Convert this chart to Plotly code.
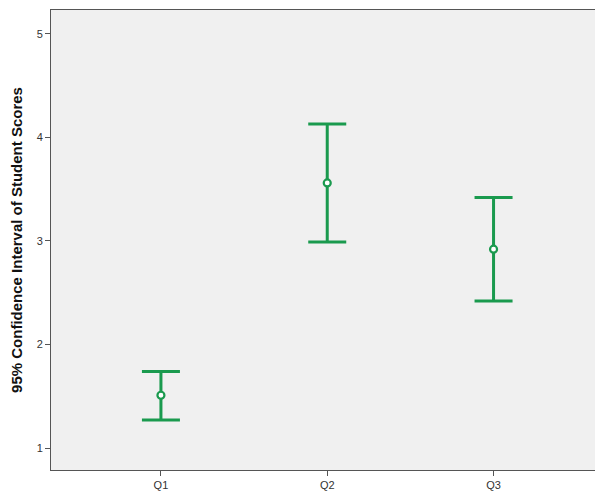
import plotly.graph_objects as go

categories = ["Q1", "Q2", "Q3"]
means = [1.51, 3.56, 2.92]
upper = [1.74, 4.13, 3.42]
lower = [1.27, 2.99, 2.42]
y_ticks = [1, 2, 3, 4, 5]

green = "#1A9A4E"
x_idx = list(range(len(categories)))

fig = go.Figure()
fig.add_trace(go.Scatter(
    x=x_idx, y=means, mode="markers",
    marker=dict(symbol="circle", size=7, color="white",
                line=dict(color=green, width=2.2)),
    error_y=dict(type="data", symmetric=False,
                 array=[u - m for u, m in zip(upper, means)],
                 arrayminus=[m - l for m, l in zip(means, lower)],
                 color=green, thickness=3, width=19),
    showlegend=False,
))

fig.update_layout(
    width=595, height=491,
    margin=dict(l=51, r=0, t=10, b=19),
    paper_bgcolor="white", plot_bgcolor="#F0F0F0",
    font=dict(family="Liberation Sans, Arial, sans-serif", size=11, color="#333333"),
    xaxis=dict(range=[-0.661, 2.61], tickmode="array", tickvals=x_idx,
               ticktext=categories, showgrid=False, zeroline=False,
               showline=True, linecolor="#555555", linewidth=1, mirror=True,
               ticks="outside", ticklen=5, tickcolor="#555555",
               tickfont=dict(size=11, color="#333333")),
    yaxis=dict(range=[0.788, 5.23], tickmode="array", tickvals=y_ticks,
               showgrid=False, zeroline=False,
               showline=True, linecolor="#555555", linewidth=1,
               ticks="outside", ticklen=5, tickcolor="#555555",
               tickfont=dict(size=11, color="#333333"),
               title=dict(text="<b>95% Confidence Interval of Student Scores</b>",
                          font=dict(size=15, color="#111111"), standoff=10)),
)

fig.write_html(
    "out.html",
    config={"displayModeBar": False},
    post_script="document.body.style.margin='0';document.body.style.overflow='hidden';",
)
